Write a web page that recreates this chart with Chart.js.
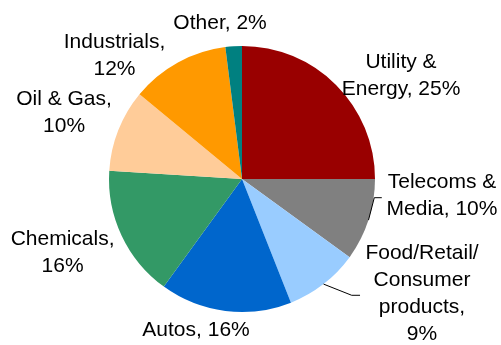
<!DOCTYPE html>
<html>
<head>
<meta charset="utf-8">
<script src="https://cdn.jsdelivr.net/npm/chart.js@4.4.0/dist/chart.umd.min.js"></script>
<style>
  body { margin: 0; background: #fff; }
  #wrap { width: 501px; height: 345px; }
</style>
</head>
<body>
<div id="wrap"><canvas id="myChart" width="501" height="345"></canvas></div>
<script>
// sectors, clockwise from 12 o'clock
const sectors = ['Utility & Energy', 'Telecoms & Media', 'Food/Retail/Consumer products', 'Autos', 'Chemicals', 'Oil & Gas', 'Industrials', 'Other'];
const shares = [25, 10, 9, 16, 16, 10, 12, 2];
const colours = ['#990000', '#808080', '#99CCFF', '#0066CC', '#339966', '#FFCC99', '#FF9900', '#008080'];

// how each data label is broken into lines
const labelLines = [
  ['Utility &', 'Energy, 25%'],
  ['Telecoms &', 'Media, 10%'],
  ['Food/Retail/', 'Consumer', 'products,', '9%'],
  ['Autos, 16%'],
  ['Chemicals,', '16%'],
  ['Oil & Gas,', '10%'],
  ['Industrials,', '12%'],
  ['Other, 2%']
];

// label nudges from the slice's outer mid point, and leader elbows where used
const labelShift = [[65, -9], [73.5, -24.6], [98.5, 9.9], [-29.3, 18.8], [-59.1, 17.1], [-54.3, -17.5], [-63.4, -6.3], [-13.6, -22.8]];
const leaders = { 1: { elbow: [5.8, -22.4], tail: 7.5 }, 2: { elbow: [28.2, 11.2], tail: 8.3 } };

const labelPlugin = {
  id: 'sliceLabels',
  afterDatasetsDraw(chart) {
    const ctx = chart.ctx;
    const meta = chart.getDatasetMeta(0);
    ctx.save();
    ctx.font = '21px "Liberation Sans", Arial, sans-serif';
    ctx.fillStyle = '#000';
    ctx.textAlign = 'center';
    ctx.textBaseline = 'middle';
    const lh = 27;
    meta.data.forEach((arc, i) => {
      const p = arc.getProps(['x', 'y', 'startAngle', 'endAngle', 'outerRadius'], true);
      const mid = (p.startAngle + p.endAngle) / 2;
      const ax = p.x + p.outerRadius * Math.cos(mid);
      const ay = p.y + p.outerRadius * Math.sin(mid);

      if (leaders[i]) {
        const l = leaders[i];
        const ex = ax + l.elbow[0], ey = ay + l.elbow[1];
        ctx.strokeStyle = '#000';
        ctx.lineWidth = 1;
        ctx.beginPath();
        ctx.moveTo(ax, ay);
        ctx.lineTo(ex, ey);
        ctx.lineTo(ex + l.tail, ey);
        ctx.stroke();
      }

      const lines = labelLines[i];
      const cx = ax + labelShift[i][0];
      const cy = ay + labelShift[i][1];
      lines.forEach((t, k) => {
        ctx.fillText(t, cx, cy + (k - (lines.length - 1) / 2) * lh);
      });
    });
    ctx.restore();
  }
};

var ctx = document.getElementById('myChart').getContext('2d');
var chart = new Chart(ctx, {
  type: 'pie',
  data: {
    labels: sectors,
    datasets: [{
      data: shares,
      backgroundColor: colours,
      borderWidth: 0
    }]
  },
  options: {
    responsive: false,
    animation: false,
    layout: { padding: { left: 109, right: 126, top: 46, bottom: 33 } },
    plugins: {
      legend: { display: false },
      tooltip: { enabled: false }
    }
  },
  plugins: [labelPlugin]
});
</script>
</body>
</html>
